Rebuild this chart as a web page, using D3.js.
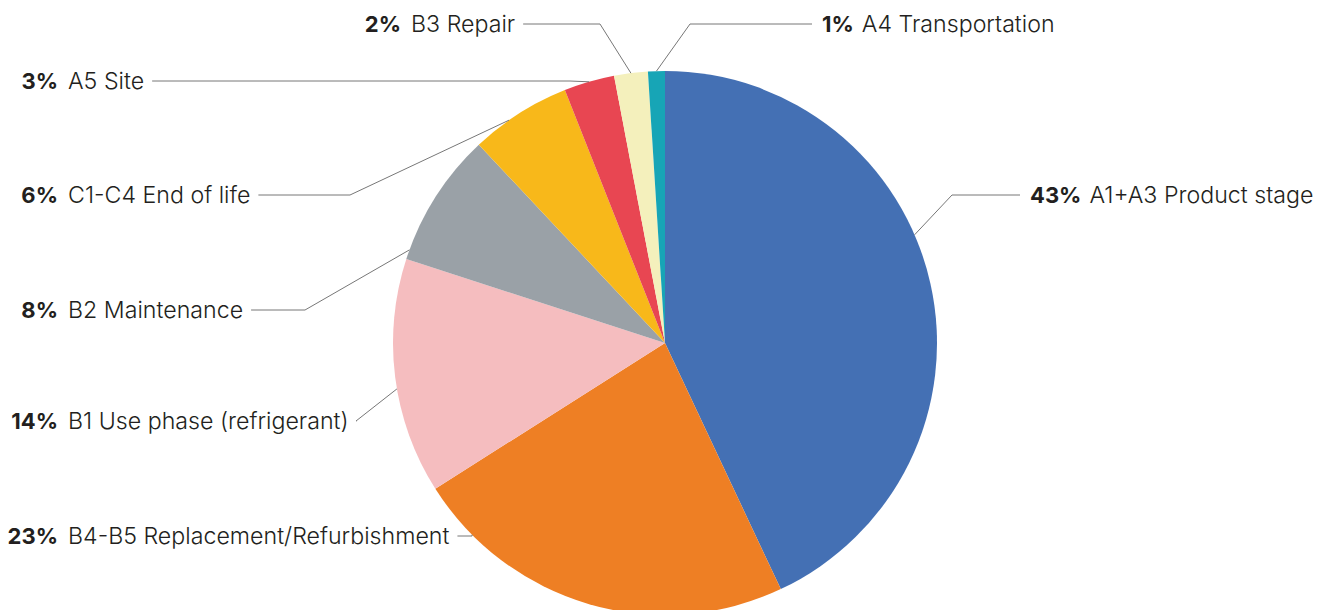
<!DOCTYPE html>
<html>
<head>
<meta charset="utf-8">
<script src="https://cdn.jsdelivr.net/npm/d3@7"></script>
<style>
    body { margin: 0; background: #fff; }
    svg text { font-family: Inter, "Noto Sans", sans-serif; fill: #231f20; }
</style>
</head>
<body>
<div id="chart"></div>
<script>
// slices, clockwise from 12 o'clock
var categories = ["A1+A3 Product stage", "B4-B5 Replacement/Refurbishment", "B1 Use phase (refrigerant)",
                  "B2 Maintenance", "C1-C4 End of life", "A5 Site", "B3 Repair", "A4 Transportation"];
var shares = [43, 23, 14, 8, 6, 3, 2, 1];
var colours = ["#4470b4", "#ee7f24", "#f5bdbf", "#9aa1a7", "#f8b81a", "#e84652", "#f4f0bc", "#17a5b6"];

// label layout (kept apart from the data)
var labelSide = ["right", "left", "left", "left", "left", "left", "left", "right"];
var labelY = [195, 536, 421, 310, 195, 81, 24, 24];
var elbowX = [952, null, 356, 305, 350, 570, 600, 690];
var anchorAt = [0.43, 0.85, 0.45, 0.07, 0.38, 0.5, 0.5, 0.5];   // where along the slice the leader meets the rim
var labelX = [1030, 58, 58, 58, 58, 58, 401, 822];              // left: right edge of the %, right: start of the %

var width = 1338, height = 610;
var cx = 665, cy = 343, radius = 272;
var nameGap = 10, fontSize = 22, nameSize = 23.2;

var svg = d3.select("#chart")
        .append("svg")
        .attr("width", width)
        .attr("height", height);

var pie = d3.pie()
        .sort(null)
        .value(function(d){ return d; });

var arc = d3.arc()
        .innerRadius(0)
        .outerRadius(radius);

var slices = pie(shares);

var g = svg.append("g")
        .attr("transform", "translate(" + cx + "," + cy + ")");

g.selectAll("path")
        .data(slices)
        .enter()
        .append("path")
        .attr("d", arc)
        .attr("fill", function(d, i){ return colours[i]; });

function rimPoint(d, i){
    var a = d.startAngle + (d.endAngle - d.startAngle) * anchorAt[i];
    return [cx + radius * Math.sin(a), cy - radius * Math.cos(a)];
}

var labels = svg.append("g");
var leaders = svg.append("g");

slices.forEach(function(d, i){
    var y = labelY[i];
    var pct = labels.append("text")
            .attr("y", y)
            .attr("dy", "0.35em")
            .attr("font-size", fontSize)
            .attr("font-weight", 700)
            .text(shares[i] + "%");
    var name = labels.append("text")
            .attr("y", y)
            .attr("dy", "0.35em")
            .attr("font-size", nameSize)
            .attr("font-weight", 300)
            .text(categories[i]);

    var rim = rimPoint(d, i);
    var ex = elbowX[i] === null ? rim[0] : elbowX[i];
    var lineFrom;

    if (labelSide[i] === "left"){
        pct.attr("x", labelX[i]).attr("text-anchor", "end");
        name.attr("x", labelX[i] + nameGap);
        lineFrom = labelX[i] + nameGap + name.node().getComputedTextLength() + 8;
    } else {
        var px = labelX[i];
        pct.attr("x", px);
        name.attr("x", px + pct.node().getComputedTextLength() + 8);
        lineFrom = px - 10;
    }

    leaders.append("polyline")
            .attr("points", [[lineFrom, y], [ex, y], rim].map(function(p){ return p.join(","); }).join(" "))
            .attr("fill", "none")
            .attr("stroke", "#777")
            .attr("stroke-width", 1);
});
</script>
</body>
</html>
